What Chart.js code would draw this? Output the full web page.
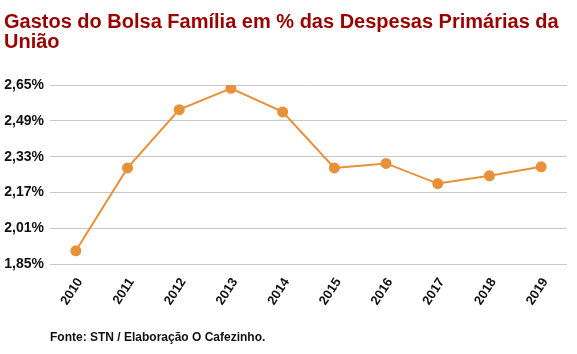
<!DOCTYPE html>
<html><head><meta charset="utf-8">
<script src="https://cdn.jsdelivr.net/npm/chart.js@4/dist/chart.umd.min.js"></script>
<style>
html,body{margin:0;padding:0;background:#fff;}
#wrap{position:relative;width:577px;height:354px;}
#foot{position:absolute;left:50px;top:330px;font:bold 12px "Liberation Sans",Arial,sans-serif;color:#111;}
</style></head>
<body>
<div id="wrap"><canvas id="c" width="577" height="354"></canvas><div id="foot">Fonte: STN / Elaboração O Cafezinho.</div></div>
<script>
const years = ["2010","2011","2012","2013","2014","2015","2016","2017","2018","2019"];
const gastos = [1.91, 2.28, 2.54, 2.635, 2.53, 2.28, 2.30, 2.21, 2.245, 2.285];
const yTicks = [1.85, 2.01, 2.17, 2.33, 2.49, 2.65];
const titleLines = ["Gastos do Bolsa Família em % das Despesas Primárias da", "União"];

const font = "'Liberation Sans', Arial, sans-serif";
new Chart(document.getElementById('c'), {
  type: 'line',
  data: {
    labels: years,
    datasets: [{
      data: gastos,
      borderColor: '#e8913a',
      backgroundColor: '#e8913a',
      borderWidth: 2,
      pointRadius: 4.5,
      pointHoverRadius: 4.5,
      tension: 0
    }]
  },
  options: {
    responsive: false,
    animation: false,
    layout: { padding: { left: 4, right: 10, top: 0, bottom: 43 } },
    plugins: {
      legend: { display: false },
      tooltip: { enabled: false },
      title: {
        display: true,
        text: titleLines,
        align: 'start',
        color: '#990000',
        font: { family: font, size: 20, weight: 'bold', lineHeight: 1.0 },
        padding: { top: 12, bottom: 33 }
      }
    },
    scales: {
      x: {
        offset: true,
        grid: { display: false },
        border: { display: false },
        afterFit: (s) => { s.paddingLeft = 0; s.paddingRight = 0; },
        ticks: {
          color: '#111',
          font: { family: font, size: 13, weight: 'bold' },
          minRotation: 57, maxRotation: 57,
          labelOffset: 4,
          padding: 3
        }
      },
      y: {
        min: 1.85, max: 2.65,
        afterBuildTicks: (axis) => { axis.ticks = yTicks.map(v => ({ value: v })); },
        afterFit: (s) => { s.width = 46; },
        grid: { color: '#c8c8c8', lineWidth: 1, drawTicks: false },
        border: { display: false },
        ticks: {
          color: '#111',
          font: { family: font, size: 14, weight: 'bold' },
          padding: 6,
          callback: (v) => v.toFixed(2).replace('.', ',') + '%'
        }
      }
    }
  }
});
</script>
</body></html>
